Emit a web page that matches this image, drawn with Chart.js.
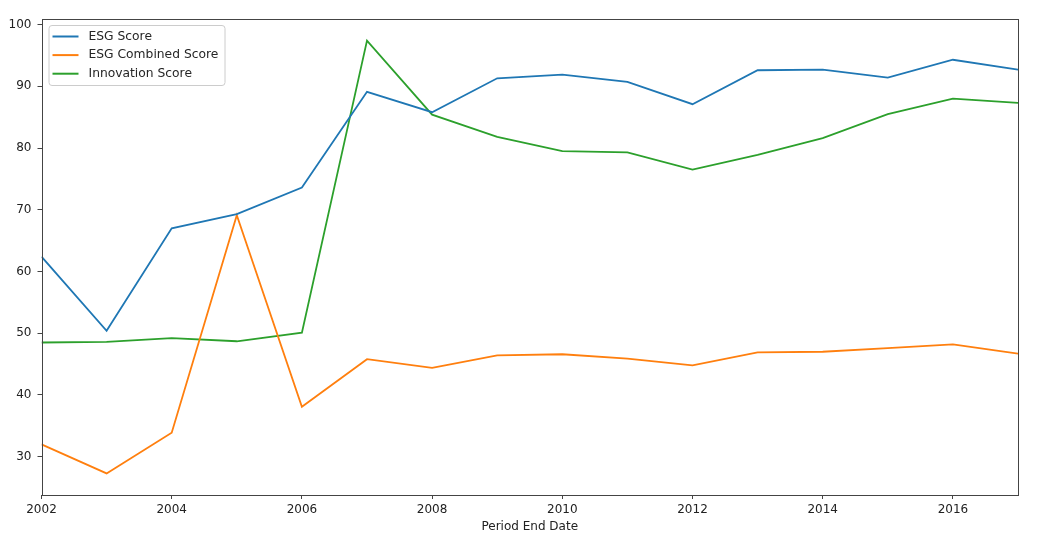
<!DOCTYPE html>
<html>
<head>
<meta charset="utf-8">
<script src="https://cdn.jsdelivr.net/npm/chart.js@4"></script>
<style>
  html, body { margin: 0; padding: 0; background: #ffffff; }
  #wrap { width: 1050px; height: 550px; }
</style>
</head>
<body>
<div id="wrap"><canvas id="c" width="1050" height="550"></canvas></div>
<script>
const years = [2002, 2003, 2004, 2005, 2006, 2007, 2008, 2009, 2010, 2011, 2012, 2013, 2014, 2015, 2016, 2017];
const esgScore = [62.4, 50.4, 67.0, 69.3, 73.6, 89.1, 85.8, 91.3, 91.9, 90.7, 87.1, 92.6, 92.7, 91.4, 94.3, 92.7];
const esgCombinedScore = [32.0, 27.3, 33.9, 69.1, 38.1, 45.8, 44.4, 46.4, 46.6, 45.9, 44.8, 46.9, 47.0, 47.6, 48.2, 46.7];
const innovationScore = [48.5, 48.6, 49.2, 48.7, 50.1, 97.4, 85.4, 81.8, 79.5, 79.3, 76.5, 78.9, 81.6, 85.5, 88.0, 87.3];
const seriesLabels = ['ESG Score', 'ESG Combined Score', 'Innovation Score'];
const xTicks = [2002, 2004, 2006, 2008, 2010, 2012, 2014, 2016];
const yTicks = [30, 40, 50, 60, 70, 80, 90, 100];
const xTitle = 'Period End Date';

const colors = ['#1f77b4', '#ff7f0e', '#2ca02c'];
const FONT = "'DejaVu Sans', sans-serif";

function pts(vals) { return years.map((y, i) => ({ x: y, y: vals[i] })); }

const framePlugin = {
  id: 'frame',
  afterDraw(chart) {
    const ctx = chart.ctx, a = chart.chartArea;
    ctx.save();
    ctx.strokeStyle = '#444';
    ctx.lineWidth = 1;
    ctx.strokeRect(Math.round(a.left) + 0.5, Math.round(a.top) + 0.5,
                   Math.round(a.right) - Math.round(a.left), Math.round(a.bottom) - Math.round(a.top));
    // legend box (matplotlib style, upper left)
    const bx = a.left + 7, by = a.top + 6, bw = 176, bh = 60;
    ctx.beginPath();
    if (ctx.roundRect) ctx.roundRect(bx + 0.5, by + 0.5, bw, bh, 3); else ctx.rect(bx + 0.5, by + 0.5, bw, bh);
    ctx.fillStyle = 'rgba(255,255,255,0.8)';
    ctx.fill();
    ctx.strokeStyle = '#cccccc';
    ctx.lineWidth = 1;
    ctx.stroke();
    ctx.font = '12.3px ' + FONT;
    ctx.textBaseline = 'middle';
    ctx.textAlign = 'left';
    chart.data.datasets.forEach((ds, i) => {
      const yy = by + 11.5 + i * 18.6;
      ctx.beginPath();
      ctx.strokeStyle = ds.borderColor;
      ctx.lineWidth = 2;
      ctx.moveTo(bx + 4, yy);
      ctx.lineTo(bx + 30, yy);
      ctx.stroke();
      ctx.fillStyle = '#262626';
      ctx.fillText(ds.label, bx + 40, yy);
    });
    ctx.restore();
  }
};

new Chart(document.getElementById('c'), {
  type: 'line',
  data: {
    datasets: [
      { label: seriesLabels[0], data: pts(esgScore), borderColor: colors[0], backgroundColor: colors[0] },
      { label: seriesLabels[1], data: pts(esgCombinedScore), borderColor: colors[1], backgroundColor: colors[1] },
      { label: seriesLabels[2], data: pts(innovationScore), borderColor: colors[2], backgroundColor: colors[2] }
    ]
  },
  options: {
    responsive: false,
    animation: false,
    devicePixelRatio: 1,
    layout: { padding: { left: 0, top: 19, right: 32, bottom: 0 } },
    elements: {
      line: { borderWidth: 1.8, tension: 0, borderCapStyle: 'butt', borderJoinStyle: 'miter' },
      point: { radius: 0, hoverRadius: 0 }
    },
    plugins: {
      legend: { display: false },
      tooltip: { enabled: false },
      title: { display: false }
    },
    scales: {
      x: {
        type: 'linear',
        min: 2002,
        max: 2017,
        afterBuildTicks(scale) { scale.ticks = xTicks.map(v => ({ value: v })); },
        afterFit(scale) { scale.height = 55; },
        border: { display: false },
        grid: { display: true, drawOnChartArea: false, drawTicks: true, tickLength: 4, tickColor: '#444', tickWidth: 1 },
        ticks: {
          color: '#222', padding: 4, maxRotation: 0, autoSkip: false,
          font: { family: FONT, size: 12 },
          callback: v => String(v)
        },
        title: {
          display: true, text: xTitle, color: '#222',
          font: { family: FONT, size: 12 },
          padding: { top: 4, bottom: 16 }
        }
      },
      y: {
        type: 'linear',
        min: 23.8,
        max: 100.9,
        afterBuildTicks(scale) { scale.ticks = yTicks.map(v => ({ value: v })); },
        afterFit(scale) { scale.width = 41.5; },
        border: { display: false },
        grid: { display: true, drawOnChartArea: false, drawTicks: true, tickLength: 4, tickColor: '#444', tickWidth: 1 },
        ticks: {
          color: '#222', padding: 6, autoSkip: false,
          font: { family: FONT, size: 12 },
          callback: v => String(v)
        }
      }
    }
  },
  plugins: [framePlugin]
});
</script>
</body>
</html>
